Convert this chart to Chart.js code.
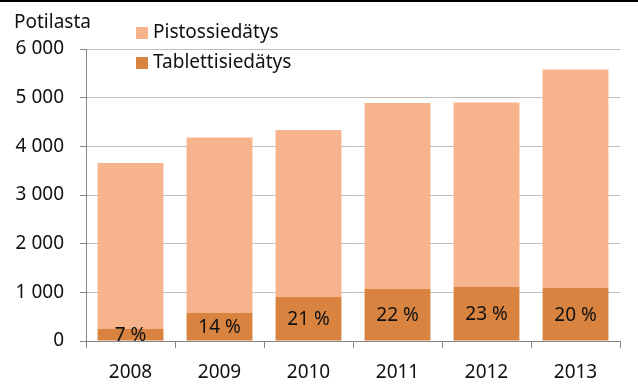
<!DOCTYPE html>
<html>
<head>
<meta charset="utf-8">
<script src="https://cdn.jsdelivr.net/npm/chart.js@4"></script>
<style>
  html, body { margin: 0; padding: 0; background: #fff; }
  #wrap { width: 638px; height: 387px; position: relative; }
</style>
</head>
<body>
<div id="wrap"><canvas id="chart" width="638" height="387"></canvas></div>
<script>
// chart data
const years = ['2008', '2009', '2010', '2011', '2012', '2013'];
const tabletti = [250, 580, 905, 1070, 1110, 1090];   // Tablettisiedätys
const pistos = [3410, 3600, 3430, 3820, 3790, 4490];  // Pistossiedätys
const shareLabels = ['7 %', '14 %', '21 %', '22 %', '23 %', '20 %'];
const yTicks = [0, 1000, 2000, 3000, 4000, 5000, 6000];

const FONT = '"Noto Sans", "Open Sans", sans-serif';
const TEXT = '#111';
const AXIS = '#868686';

function fmt(v) {
  return v.toString().replace(/\B(?=(\d{3})+(?!\d))/g, ' ');
}

// white background, top border, y title and legend
const decorations = {
  id: 'decorations',
  beforeDraw(chart) {
    const ctx = chart.ctx;
    ctx.save();
    ctx.fillStyle = '#fff';
    ctx.fillRect(0, 0, chart.width, chart.height);
    ctx.fillStyle = '#000';
    ctx.fillRect(0, 0, chart.width, 2);
    ctx.restore();
  },
  afterDraw(chart) {
    const ctx = chart.ctx;
    ctx.save();
    ctx.font = '19px ' + FONT;
    ctx.fillStyle = TEXT;
    ctx.textBaseline = 'middle';
    ctx.textAlign = 'left';
    ctx.fillText('Potilasta', 14, 23);

    // legend, top series first
    const items = [chart.data.datasets[1], chart.data.datasets[0]];
    items.forEach((ds, i) => {
      const y = 33 + i * 30;
      ctx.fillStyle = ds.backgroundColor;
      ctx.fillRect(136, y - 6, 12, 12);
      ctx.fillStyle = TEXT;
      ctx.fillText(ds.label, 153, y);
    });
    ctx.restore();
  }
};

// percentage labels in the bottom bars
const shareText = {
  id: 'shareText',
  afterDatasetsDraw(chart) {
    const ctx = chart.ctx;
    const area = chart.chartArea;
    const meta = chart.getDatasetMeta(0);
    ctx.save();
    ctx.beginPath();
    ctx.rect(area.left, area.top, area.right - area.left, area.bottom - area.top);
    ctx.clip();
    ctx.font = '19px ' + FONT;
    ctx.fillStyle = TEXT;
    ctx.textAlign = 'center';
    ctx.textBaseline = 'middle';
    meta.data.forEach((bar, i) => {
      const cy = (bar.y + bar.base) / 2;
      ctx.fillText(shareLabels[i], bar.x, cy + 1);
    });
    ctx.restore();
  }
};

new Chart(document.getElementById('chart'), {
  type: 'bar',
  data: {
    labels: years,
    datasets: [
      {
        label: 'Tablettisiedätys',
        data: tabletti,
        backgroundColor: '#D8833F',
        barPercentage: 0.74,
        categoryPercentage: 1
      },
      {
        label: 'Pistossiedätys',
        data: pistos,
        backgroundColor: '#F7B38C',
        barPercentage: 0.74,
        categoryPercentage: 1
      }
    ]
  },
  options: {
    responsive: false,
    animation: false,
    layout: { padding: { top: 49, right: 18, left: 0, bottom: 0 } },
    plugins: {
      legend: { display: false },
      tooltip: { enabled: false }
    },
    scales: {
      x: {
        stacked: true,
        afterFit(scale) { scale.height = 46; },
        border: { color: AXIS, width: 1 },
        grid: {
          offset: true,
          drawOnChartArea: false,
          drawTicks: true,
          tickLength: 7,
          tickColor: AXIS
        },
        ticks: {
          color: TEXT,
          font: { family: FONT, size: 19 },
          padding: 13
        }
      },
      y: {
        stacked: true,
        min: 0,
        max: 6000,
        afterFit(scale) { scale.width = 86; },
        afterBuildTicks(scale) { scale.ticks = yTicks.map(v => ({ value: v })); },
        border: { color: AXIS, width: 1 },
        grid: {
          color: '#BFBFBF',
          tickColor: AXIS,
          tickLength: 6
        },
        ticks: {
          color: TEXT,
          font: { family: FONT, size: 19 },
          padding: 16,
          callback: v => fmt(v)
        }
      }
    }
  },
  plugins: [decorations, shareText]
});
</script>
</body>
</html>
